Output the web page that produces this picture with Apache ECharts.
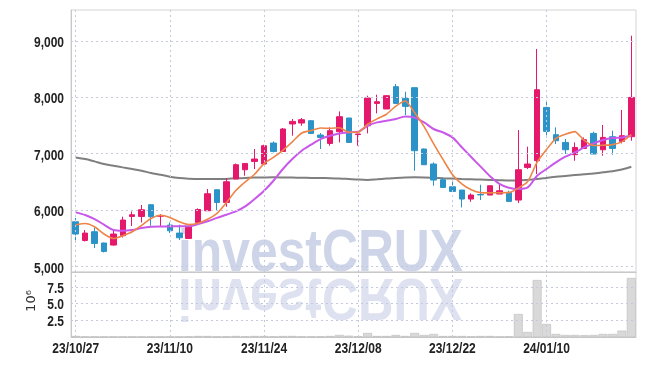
<!DOCTYPE html>
<html><head><meta charset="utf-8">
<script src="https://cdn.jsdelivr.net/npm/echarts/dist/echarts.min.js"></script>
<style>html,body{margin:0;padding:0;background:#fff}#c{width:645px;height:366px}</style>
</head><body><div id="c"></div>
<script>
const dates = ['23/10/27','23/10/30','23/10/31','23/11/01','23/11/02','23/11/03','23/11/06','23/11/07','23/11/08','23/11/09',
'23/11/10','23/11/13','23/11/14','23/11/15','23/11/16','23/11/17','23/11/20','23/11/21','23/11/22','23/11/23',
'23/11/24','23/11/27','23/11/28','23/11/29','23/11/30','23/12/01','23/12/04','23/12/05','23/12/06','23/12/07',
'23/12/08','23/12/11','23/12/12','23/12/13','23/12/14','23/12/15','23/12/18','23/12/19','23/12/20','23/12/21',
'23/12/22','23/12/26','23/12/27','23/12/28','24/01/02','24/01/03','24/01/04','24/01/05','24/01/08','24/01/09',
'24/01/10','24/01/11','24/01/12','24/01/15','24/01/16','24/01/17','24/01/18','24/01/19','24/01/22','24/01/23'];
const opens = [5792,5460,5615,5414,5378,5544,5886,5886,6094,5890,5733,5591,5496,5780,5987,6360,6135,6550,6715,6863,
6816,7189,7040,7527,7544,7585,7331,7182,7390,7633,7340,7496,7892,7793,8189,7981,8171,7083,6816,6538,
6413,6355,6195,6275,6266,6284,6313,6177,6756,6875,7821,7337,7200,6982,7093,7360,7070,7301,7218,7301];
const closes = [5574,5591,5407,5265,5574,5822,5916,6005,5881,5900,5632,5508,5703,6010,6289,6135,6502,6804,6827,6905,
7141,7040,7438,7573,7603,7360,7289,7408,7656,7200,7350,7988,7922,8029,7892,7839,7053,6804,6532,6401,
6330,6195,6266,6268,6431,6342,6153,6715,6816,8135,7396,7230,7070,7111,7248,6994,7289,7093,7319,7999];
const lows = [5425,5442,5325,5247,5366,5513,5716,5780,5721,5716,5591,5467,5490,5780,5987,5987,6058,6550,6609,6728,
6816,7022,7040,7319,7496,7349,7083,7141,7200,7200,7141,7360,7715,7793,7880,7686,6697,6804,6431,6401,
6330,6046,6147,6177,6266,6284,6153,6124,6728,6639,7289,7171,6994,6875,7083,6994,6964,6982,7182,7230];
const highs = [5858,5645,5691,5420,5632,5881,5975,6089,6100,5929,5780,5739,5710,6028,6373,6365,6568,6827,6827,7083,
7159,7218,7456,7615,7633,7597,7367,7467,7751,7633,7352,8029,8047,8035,8237,8100,8176,7090,6845,6579,
6532,6355,6295,6449,6431,6449,6342,7420,7124,8858,7940,7467,7260,7200,7289,7390,7509,7408,7775,9094];
const ma5 = [5739,5762,5703,5574,5495,5545,5615,5728,5850,5908,5868,5790,5740,5765,5835,5940,6130,6345,6500,6635,
6825,6935,7060,7210,7368,7410,7455,7450,7460,7380,7380,7522,7618,7700,7843,7936,7725,7480,7180,6900,
6630,6462,6358,6308,6305,6306,6308,6388,6505,6850,7075,7272,7345,7392,7235,7145,7150,7160,7210,7337];
const ma20 = [5958,5911,5840,5739,5645,5632,5645,5680,5703,5709,5709,5712,5712,5750,5800,5860,5916,5975,6064,6195,
6342,6520,6728,6905,7053,7159,7260,7319,7360,7378,7390,7496,7555,7585,7615,7662,7640,7555,7438,7378,
7289,7115,6940,6770,6600,6465,6395,6372,6401,6609,6728,6846,6946,7022,7111,7182,7242,7278,7289,7319];
const ma60 = [6934,6905,6863,6816,6787,6757,6728,6698,6657,6627,6591,6568,6556,6550,6550,6550,6552,6562,6568,6575,
6578,6580,6578,6575,6572,6570,6568,6565,6560,6550,6540,6535,6545,6558,6570,6578,6580,6578,6572,6565,
6558,6550,6545,6540,6535,6530,6525,6525,6535,6550,6570,6590,6605,6620,6635,6650,6670,6690,6720,6769];
const volumes = [0.15,0.05,0.05,0.05,0.05,0.05,0.05,0.05,0.05,0.05,0.05,0.05,0.08,0.15,0.15,0.08,0.08,0.15,0.08,0.15,
0.15,0.08,0.15,0.15,0.08,0.08,0.08,0.15,0.3,0.2,0.1,0.6,0.15,0.15,0.3,0.15,0.6,0.3,0.45,0.15,
0.15,0.15,0.08,0.15,0.15,0.05,0.08,3.44,0.75,8.53,1.95,0.45,0.3,0.3,0.27,0.3,0.45,0.45,0.95,8.83];
const labelDates = ['23/10/27','23/11/10','23/11/24','23/12/08','23/12/22','24/01/10'];
const priceTicks = [5000, 6000, 7000, 8000, 9000];
const volTicks = [2.5, 5.0, 7.5];
const watermark = 'investCRUX';
const volUnit = '10⁶';

const UP = '#e6186b', DOWN = '#2b93c7';
const GRIDC = '#c5c9de';
const LBL_FONT = 'bold 15px "Liberation Sans"';
const NARROW = 0.8;
const candles = dates.map((d, i) => [opens[i], closes[i], lows[i], highs[i]]);
const gridLineStyle = {type: [2, 3], color: GRIDC, width: 1};
const markLines = (hVals) => ({
  silent: true, symbol: 'none', label: {show: false}, animation: false,
  lineStyle: gridLineStyle,
  data: labelDates.map(d => ({xAxis: d})).concat(hVals.map(v => ({yAxis: v})))
});

const chart = echarts.init(document.getElementById('c'), null, {renderer: 'canvas'});
const option = {
  animation: false,
  backgroundColor: '#fff',
  grid: [
    {left: 71, right: 9, top: 10, height: 262, show: true, borderColor: '#d4d4d4', borderWidth: 1},
    {left: 71, right: 9, top: 272, height: 65, show: true, borderColor: '#d4d4d4', borderWidth: 1}
  ],
  xAxis: [
    {type: 'category', gridIndex: 0, data: dates, axisLine: {lineStyle: {color: '#c8c8c8'}},
     axisTick: {show: false}, axisLabel: {show: false}, splitLine: {show: false}},
    {type: 'category', gridIndex: 1, data: dates, axisLine: {lineStyle: {color: '#c8c8c8'}},
     axisTick: {show: false}, splitLine: {show: false}, axisLabel: {show: false}}
  ],
  yAxis: [
    {type: 'value', gridIndex: 0, min: 4900, max: 9550,
     axisLine: {show: true, lineStyle: {color: '#c8c8c8'}}, axisTick: {show: false},
     axisLabel: {show: false}, splitLine: {show: false}},
    {type: 'value', gridIndex: 1, min: 0, max: 9.73,
     axisLine: {show: true, lineStyle: {color: '#c8c8c8'}}, axisTick: {show: false},
     axisLabel: {show: false}, splitLine: {show: false}}
  ],
  series: [
    {type: 'candlestick', xAxisIndex: 0, yAxisIndex: 0, data: candles, barWidth: 6, z: 3,
     itemStyle: {color: UP, color0: DOWN, borderColor: UP, borderColor0: DOWN, borderWidth: 1},
     markLine: markLines(priceTicks)},
    {type: 'line', xAxisIndex: 0, yAxisIndex: 0, data: ma60, symbol: 'none', smooth: 0.3,
     lineStyle: {color: '#7f7f7f', width: 2}, z: 2},
    {type: 'line', xAxisIndex: 0, yAxisIndex: 0, data: ma20, symbol: 'none', smooth: 0.3,
     lineStyle: {color: '#c957ea', width: 2}, z: 4},
    {type: 'line', xAxisIndex: 0, yAxisIndex: 0, data: ma5, symbol: 'none', smooth: 0.2,
     lineStyle: {color: '#ef8447', width: 1.6}, z: 5},
    {type: 'bar', xAxisIndex: 1, yAxisIndex: 1, data: volumes, barCategoryGap: '6%',
     itemStyle: {color: '#d9d9d9', borderColor: '#bcbcbc', borderWidth: 0.6},
     markLine: markLines(volTicks)}
  ]
};
chart.setOption(option);

// axis labels as narrow text, placed through the axes' own scales
const graphics = [
  {type: 'text', x: 178, y: 275, z: -10, silent: true, scaleX: 0.83,
   style: {text: watermark, font: 'bold 60px "Liberation Sans"', fill: 'rgba(160,172,212,0.5)', verticalAlign: 'bottom', y: 9}},
  {type: 'text', x: 178, y: 275, scaleX: 0.83, scaleY: -1, z: -10, silent: true,
   style: {text: watermark, font: 'bold 60px "Liberation Sans"', fill: 'rgba(160,172,212,0.35)', verticalAlign: 'bottom', y: 9}},
  {type: 'text', x: 32, y: 301, rotation: Math.PI / 2, silent: true,
   style: {text: volUnit, font: '13px "DejaVu Sans"', fill: '#333', align: 'center', verticalAlign: 'middle'}}
];
priceTicks.forEach(v => {
  const y = chart.convertToPixel({yAxisIndex: 0}, v);
  graphics.push({type: 'text', x: 64, y: y + 2, scaleX: NARROW, silent: true,
    style: {text: v.toLocaleString('en-US'), font: LBL_FONT, fill: '#222', align: 'right', verticalAlign: 'middle'}});
});
volTicks.forEach(v => {
  const y = chart.convertToPixel({yAxisIndex: 1}, v);
  graphics.push({type: 'text', x: 64, y: y + 1.5, scaleX: NARROW, silent: true,
    style: {text: v.toFixed(1), font: LBL_FONT, fill: '#222', align: 'right', verticalAlign: 'middle'}});
});
const xBase = chart.convertToPixel({yAxisIndex: 1}, 0);
labelDates.forEach(d => {
  const x = chart.convertToPixel({xAxisIndex: 1}, d);
  graphics.push({type: 'text', x: x, y: xBase + 11.5, scaleX: NARROW, silent: true,
    style: {text: d, font: LBL_FONT, fill: '#222', align: 'center', verticalAlign: 'middle'}});
});
chart.setOption({graphic: graphics});
</script></body></html>
